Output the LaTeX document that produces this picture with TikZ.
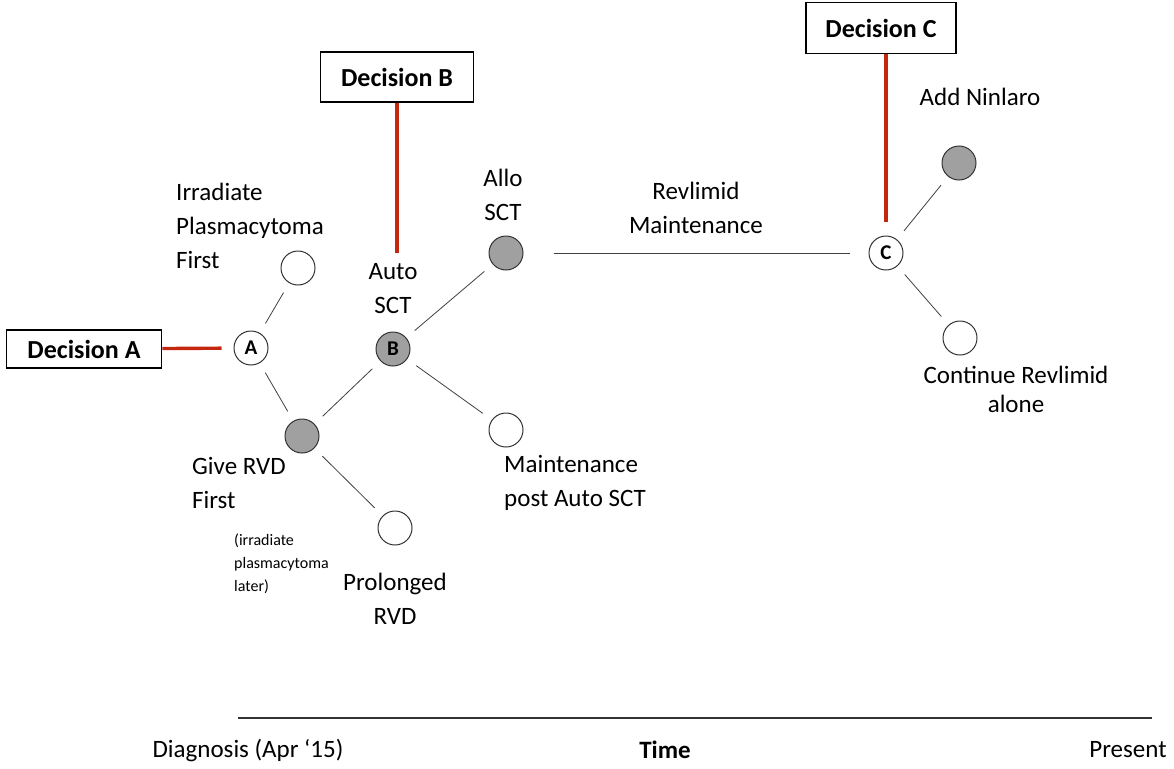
\documentclass[tikz,border=0pt]{standalone}
\usepackage{fontspec}
\setmainfont{Carlito}
\usepackage{tikz}
\usetikzlibrary{positioning}
\definecolor{decred}{RGB}{196,38,14}
\definecolor{stepgray}{RGB}{160,160,160}

\begin{document}
\begin{tikzpicture}[
    x=1pt, y=-1pt,
    font=\fontsize{25}{34}\selectfont,
    decision/.style={
		rectangle,
		draw=black,
		line width=1.6pt,
		text centered,
		font=\fontsize{26}{28}\selectfont\bfseries,
		inner xsep=0pt,
		inner ysep=0pt,
		fill=white
	},
	choice/.style={
		circle,
		draw=black!80,
		line width=1pt,
		minimum size=34pt,
		inner sep=0pt,
		font=\fontsize{21}{21}\selectfont\bfseries,
		fill=white
	},
	done/.style={
		choice,
		fill=stepgray
	},
	label/.style={
		inner sep=0pt
	},
	small/.style={
		inner sep=0pt,
		align=left,
		font=\fontsize{16}{23}\selectfont
	},
	branch/.style={
		draw=black!75,
		line width=0.8pt,
		shorten <=11pt,
		shorten >=11pt
	},
	link/.style={
		draw=decred,
		line width=3.4pt
	}
  ]
  \useasboundingbox (0,0) rectangle (1174,768);

    % decision points and outcomes
  \node [choice] (a) at (251,348) {A};
  \node [choice] (irr) at (298,268) {};
  \node [done] (rvd) at (302,436) {};
  \node [choice] (prol) at (395,528) {};
  \node [done] (b) at (393,349) {B};
  \node [done] (allo) at (506,253) {};
  \node [choice] (maint) at (506,430) {};
  \node [choice] (c) at (886,253) {C};
  \node [done] (nin) at (959,163) {};
  \node [choice] (cont) at (960,338) {};

  % the decision boxes
  \node [decision, minimum width=155pt, minimum height=38pt] (deca) at (84,349) {Decision A};
  \node [decision, minimum width=153pt, minimum height=50pt] (decb) at (397,77) {Decision B};
  \node [decision, minimum width=150pt, minimum height=51pt] (decc) at (881,28) {Decision C};

  \draw [link, shorten >=12pt] (deca) -- (a);
  \draw [link] (decb.south) -- ++(0,150) coordinate (bend);
  \draw [link, shorten >=14pt] (decc.south -| c) -- (c);

  % branches
  \draw [branch] (a) -- (irr);
  \draw [branch] (a) -- (rvd);
  \draw [branch] (rvd) -- (b);
  \draw [branch] (rvd) -- (prol);
  \draw [branch] (b) -- (allo);
  \draw [branch] (b) -- (maint);
  \draw [branch, shorten <=30pt, shorten >=19pt] (allo) -- node [label, above=19pt, align=center] {Revlimid\\Maintenance} (c);
  \draw [branch] (c) -- (nin);
  \draw [branch] (c) -- (cont);

  % texts
  \node [label, align=left, anchor=west] (irrtext) at (176,226) {Irradiate\\Plasmacytoma\\First};
  \node [label, align=center, above=18pt of b] (autotext) {Auto\\SCT};
  \node [label, align=center, above=15pt of allo, xshift=-3pt] (allotext) {Allo\\SCT};
  \node [label, align=left, anchor=north west] (rvdtext) at (192,457) {Give RVD\\First};
  \node [small, anchor=north west] (rvdnote) at (234,534) {(irradiate\\plasmacytoma\\later)};
  \node [label, align=center, below=27pt of prol] (proltext) {Prolonged\\RVD};
  \node [label, align=left, anchor=north west] (mainttext) at (504,455) {Maintenance\\post Auto SCT};
  \node [label, above=40pt of nin, xshift=21pt] (nintext) {Add Ninlaro};
  \node [label, align=center, below=10pt of cont, xshift=56pt, font=\fontsize{25}{29}\selectfont] (conttext) {Continue Revlimid\\alone};

  % time axis
  \coordinate (start) at (238,718);
  \coordinate (now) at (1152,718);
  \draw [black!80, line width=1.2pt] (start) -- (now);
  \node [label] (diag) at (248,750) {Diagnosis (Apr ‘15)};
  \node [label, font=\fontsize{25}{34}\selectfont\bfseries] (time) at (665,750) {Time};
  \node [label] (pres) at (1128,750) {Present};

\end{tikzpicture}
\end{document}
